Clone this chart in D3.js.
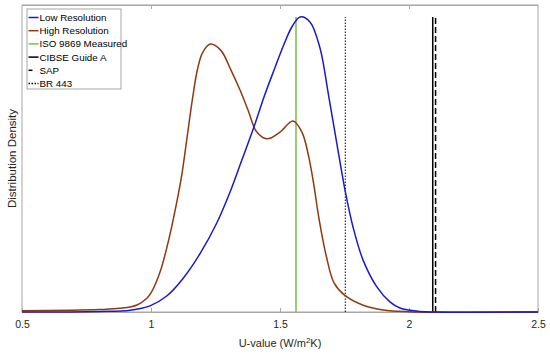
<!DOCTYPE html>
<html>
<head>
<meta charset="utf-8">
<script src="https://cdn.jsdelivr.net/npm/d3@7"></script>
<style>
  body { margin: 0; background: #fff; }
  svg { font-family: "Liberation Sans", Arial, sans-serif; }
  .axis text { font-size: 10.5px; fill: #262626; }
</style>
</head>
<body>
<div id="chart"></div>
<script>
// U-value samples (W/m2K) and distribution density (relative)
var lowResU = [0.5, 0.80, 0.92, 0.996, 1.061, 1.125, 1.19, 1.255, 1.306, 1.35, 1.40, 1.44, 1.48, 1.512, 1.547, 1.578, 1.616, 1.655, 1.686, 1.72, 1.752, 1.783, 1.822, 1.876, 1.926, 1.965, 2.04, 2.1, 2.5];
var lowResD = [0, 0.002, 0.006, 0.02, 0.052, 0.11, 0.19, 0.29, 0.39, 0.49, 0.605, 0.705, 0.795, 0.865, 0.93, 0.961, 0.945, 0.86, 0.717, 0.55, 0.397, 0.277, 0.169, 0.081, 0.033, 0.013, 0.002, 0, 0];

var highResU = [0.5, 0.80, 0.88, 0.946, 0.984, 1.0, 1.035, 1.07, 1.105, 1.12, 1.14, 1.16, 1.18, 1.20, 1.23, 1.27, 1.31, 1.345, 1.376, 1.41, 1.45, 1.50, 1.55, 1.585, 1.61, 1.63, 1.65, 1.68, 1.71, 1.75, 1.82, 1.90, 2.0, 2.5];
var highResD = [0.004, 0.008, 0.012, 0.023, 0.045, 0.062, 0.13, 0.24, 0.38, 0.45, 0.57, 0.69, 0.79, 0.845, 0.873, 0.853, 0.788, 0.723, 0.658, 0.586, 0.564, 0.586, 0.622, 0.586, 0.511, 0.42, 0.31, 0.18, 0.094, 0.055, 0.023, 0.0065, 0.001, 0];

// reference U-values
var refNames = ["ISO 9869 Measured", "CIBSE Guide A", "SAP", "BR 443"];
var refValues = [1.562, 2.092, 2.103, 1.753];

var xTicks = [0.5, 1, 1.5, 2, 2.5];

var width = 550, height = 355;
var margin = {top: 5, right: 12, bottom: 43, left: 22};

var svg = d3.select("#chart").append("svg")
  .attr("width", width)
  .attr("height", height);

var x = d3.scaleLinear().domain([0.5, 2.5]).range([margin.left, width - margin.right]);
var y = d3.scaleLinear().domain([0, 1]).range([height - margin.bottom, margin.top]);

// frame
svg.append("rect")
  .attr("x", x(0.5)).attr("y", y(1))
  .attr("width", x(2.5) - x(0.5)).attr("height", y(0) - y(1))
  .attr("fill", "#fff").attr("stroke", "#a6a6a6").attr("stroke-width", 1);

// bottom axis, ticks inside
var xAxis = svg.append("g").attr("class", "axis")
  .attr("transform", "translate(0," + y(0) + ")")
  .call(d3.axisBottom(x).tickValues(xTicks).tickSizeInner(-4).tickSizeOuter(0).tickPadding(9)
    .tickFormat(d3.format("")));
xAxis.select(".domain").attr("stroke", "#a6a6a6");
xAxis.selectAll(".tick line").attr("stroke", "#a6a6a6");

// top axis ticks, no labels
var topAxis = svg.append("g")
  .attr("transform", "translate(0," + y(1) + ")")
  .call(d3.axisTop(x).tickValues(xTicks.slice(1, -1)).tickSizeInner(-4).tickSizeOuter(0).tickFormat(""));
topAxis.select(".domain").attr("stroke", "#a6a6a6");
topAxis.selectAll(".tick line").attr("stroke", "#a6a6a6");

// axis titles
var xTitle = svg.append("text")
  .attr("x", x(1.5)).attr("y", 347)
  .attr("text-anchor", "middle")
  .attr("font-size", 11).attr("fill", "#262626");
xTitle.append("tspan").text("U-value (W/m");
xTitle.append("tspan").attr("dy", -4).attr("font-size", 8).text("2");
xTitle.append("tspan").attr("dy", 4).text("K)");

svg.append("text")
  .attr("transform", "translate(12," + ((y(0) + y(1)) / 2) + ") rotate(-90)")
  .attr("text-anchor", "middle")
  .attr("dy", "0.35em")
  .attr("font-size", 11.5).attr("fill", "#262626")
  .text("Distribution Density");

var line = d3.line()
  .x(function(d) { return x(d[0]); })
  .y(function(d) { return y(Math.max(0, d[1])); })
  .curve(d3.curveCatmullRom.alpha(0.5));

var lowRes = d3.zip(lowResU, lowResD);
var highRes = d3.zip(highResU, highResD);
var refTop = d3.max(lowResD);

var refStyles = [
  {color: "#77c043", dash: null, w: 1.5},
  {color: "#000", dash: null, w: 1.5},
  {color: "#000", dash: "6,3", w: 1.5},
  {color: "#000", dash: "1.5,1.5", w: 1}
];

// reference lines
svg.selectAll("line.ref")
  .data(refValues)
  .enter().append("line")
  .attr("class", "ref")
  .attr("x1", function(d) { return x(d); })
  .attr("x2", function(d) { return x(d); })
  .attr("y1", y(0))
  .attr("y2", y(refTop))
  .attr("stroke", function(d, i) { return refStyles[i].color; })
  .attr("stroke-width", function(d, i) { return refStyles[i].w; })
  .attr("stroke-dasharray", function(d, i) { return refStyles[i].dash; });

svg.append("path").datum(highRes)
  .attr("d", line).attr("fill", "none")
  .attr("stroke", "#8c3a12").attr("stroke-width", 1.5);

svg.append("path").datum(lowRes)
  .attr("d", line).attr("fill", "none")
  .attr("stroke", "#1a1acc").attr("stroke-width", 1.5);

// legend
var legendItems = [
  {name: "Low Resolution", color: "#1a1acc", dash: null, len: 10},
  {name: "High Resolution", color: "#8c3a12", dash: null, len: 10},
  {name: refNames[0], color: refStyles[0].color, dash: null, len: 10},
  {name: refNames[1], color: "#000", dash: null, len: 10},
  {name: refNames[2], color: "#000", dash: null, len: 4},
  {name: refNames[3], color: "#000", dash: "1.5,1.5", len: 10}
];

var legend = svg.append("g").attr("transform", "translate(27,9)");
legend.append("rect")
  .attr("width", 94).attr("height", 80)
  .attr("fill", "#fff").attr("stroke", "#a6a6a6");

var rows = legend.selectAll("g.row")
  .data(legendItems)
  .enter().append("g")
  .attr("class", "row")
  .attr("transform", function(d, i) { return "translate(0," + (8.5 + i * 13.2) + ")"; });

rows.append("line")
  .attr("x1", 1.5).attr("x2", function(d) { return 1.5 + d.len; })
  .attr("stroke", function(d) { return d.color; })
  .attr("stroke-width", 1.5)
  .attr("stroke-dasharray", function(d) { return d.dash; });

rows.append("text")
  .attr("x", 12.5).attr("dy", "0.35em")
  .attr("font-size", 9.8).attr("fill", "#000")
  .text(function(d) { return d.name; });
</script>
</body>
</html>
